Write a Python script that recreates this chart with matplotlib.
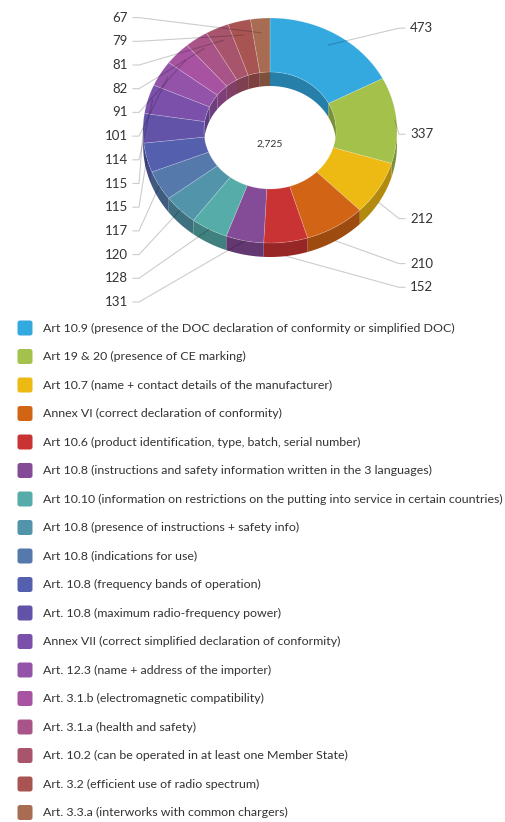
import numpy as np
import matplotlib.pyplot as plt
from matplotlib.patches import Polygon, FancyBboxPatch

plt.rcParams['font.family'] = ['Lato', 'DejaVu Sans']

# data
values = [473, 337, 212, 210, 152, 131, 128, 120, 117, 115, 115, 114, 101, 91, 82, 81, 79, 67]
labels = [
    'Art 10.9 (presence of the DOC declaration of conformity or simplified DOC)',
    'Art 19 & 20 (presence of CE marking)',
    'Art 10.7 (name + contact details of the manufacturer)',
    'Annex VI (correct declaration of conformity)',
    'Art 10.6 (product identification, type, batch, serial number)',
    'Art 10.8 (instructions and safety information written in the 3 languages)',
    'Art 10.10 (information on restrictions on the putting into service in certain countries)',
    'Art 10.8 (presence of instructions + safety info)',
    'Art 10.8 (indications for use)',
    'Art. 10.8 (frequency bands of operation)',
    'Art. 10.8 (maximum radio-frequency power)',
    'Annex VII (correct simplified declaration of conformity)',
    'Art. 12.3 (name + address of the importer)',
    'Art. 3.1.b (electromagnetic compatibility)',
    'Art. 3.1.a (health and safety)',
    'Art. 10.2 (can be operated in at least one Member State)',
    'Art. 3.2 (efficient use of radio spectrum)',
    'Art. 3.3.a (interworks with common chargers)',
]
colors = ['#33A9E0', '#A3C14B', '#EDB913', '#D26416', '#C93333', '#844B96',
          '#55ACA9', '#5295AA', '#5579AA', '#5460AD', '#6253A8', '#7A50AA',
          '#9353A9', '#A853A1', '#A95488', '#A8546C', '#A85452', '#A86C52']

W, H = 505, 822
fig = plt.figure(figsize=(W / 100, H / 100), dpi=100)
ax = fig.add_axes([0, 0, 1, 1])
ax.set_xlim(0, W)
ax.set_ylim(H, 0)
ax.axis('off')

# donut geometry (pixels)
cx, cy = 270, 130.5
rx, ry = 127, 112.5
hole = 0.52
depth = 14


def pt(t, r, dy=0.0):
    a = np.radians(t)
    return cx + r * rx * np.sin(a), cy - r * ry * np.cos(a) + dy


def arc(t0, t1, r, dy=0.0):
    ts = np.linspace(t0, t1, max(2, int(abs(t1 - t0) * 2) + 2))
    x, y = pt(ts, r, dy)
    return np.column_stack([x, y])


def darker(c, f=0.75):
    rgb = np.array(plt.matplotlib.colors.to_rgb(c))
    return tuple(rgb * f)


vals = np.array(values, dtype=float)
total = vals.sum()
ends = np.cumsum(vals) / total * 360
starts = ends - vals / total * 360
mids = (starts + ends) / 2

# sides first
for s, e, c in zip(starts, ends, colors):
    lo, hi = max(s, 90), min(e, 270)
    if hi > lo:
        poly = np.vstack([arc(lo, hi, 1), arc(hi, lo, 1, depth)])
        ax.add_patch(Polygon(poly, closed=True, fc=darker(c), ec='none', zorder=1))
    for a0, a1 in [(0, 90), (270, 360)]:
        lo, hi = max(s, a0), min(e, a1)
        if hi > lo:
            poly = np.vstack([arc(lo, hi, hole), arc(hi, lo, hole, depth)])
            ax.add_patch(Polygon(poly, closed=True, fc=darker(c), ec='none', zorder=1))

# top faces
for s, e, c in zip(starts, ends, colors):
    poly = np.vstack([arc(s, e, 1), arc(e, s, hole)])
    ax.add_patch(Polygon(poly, closed=True, fc=c, ec=(1, 1, 1, 0.25), lw=0.5, zorder=2))

ax.text(cx, cy + 14, f'{int(total):,}', ha='center', va='center', fontsize=7.5,
        color='#333333', zorder=5)


# data labels
def spread(nat, gap, lo, hi):
    order = np.argsort(nat)
    groups = [[i] for i in order]
    while True:
        pos = []
        for g in groups:
            n = len(g)
            c = np.mean([nat[i] for i in g])
            top = c - (n - 1) / 2 * gap
            top = min(max(top, lo), hi - (n - 1) * gap)
            pos.append(top)
        merged = False
        for k in range(len(groups) - 1):
            if pos[k] + (len(groups[k]) - 1) * gap + gap > pos[k + 1]:
                groups[k] = groups[k] + groups[k + 1]
                del groups[k + 1]
                merged = True
                break
        if not merged:
            break
    out = {}
    for g, top in zip(groups, pos):
        for j, i in enumerate(g):
            out[i] = top + j * gap
    return out


nat_y = cy + 16.5 - np.cos(np.radians(mids)) * 139
right = [i for i in range(len(values)) if mids[i] < 180]
left = [i for i in range(len(values)) if mids[i] >= 180]

for side in (right, left):
    pos = spread([nat_y[i] for i in side], 23.7, 18, 302)
    for k, i in enumerate(side):
        y = pos[k]
        m = mids[i]
        cm, sm = np.cos(np.radians(m)), np.sin(np.radians(m))
        if cm > 0:
            ax_, ay_ = pt(m, 1.0 - 0.13 * cm)
        elif sm > 0:
            ax_, ay_ = pt(m, 1.0, depth)
        else:
            ax_, ay_ = pt(m, 1.0)
        if side is right:
            xs = [405, 399, ax_]
            ax.text(410, y, str(values[i]), ha='left', va='center', fontsize=9.5,
                    color='#333333', zorder=5)
        else:
            xs = [133, 139, ax_]
            ax.text(128, y, str(values[i]), ha='right', va='center', fontsize=9.5,
                    color='#333333', zorder=5)
        ax.plot(xs, [y, y, ay_], color='k', alpha=0.2, lw=0.8, zorder=3)

# legend
for k, (lab, c) in enumerate(zip(labels, colors)):
    y = 328 + k * 28.5
    ax.add_patch(FancyBboxPatch((17.5, y - 7.5), 15, 15, boxstyle='round,pad=0,rounding_size=2.5',
                                fc=c, ec='none', zorder=2))
    ax.text(43, y, lab, ha='left', va='center', fontsize=8.9, color='#333333')

plt.savefig('out.png', dpi=100)
